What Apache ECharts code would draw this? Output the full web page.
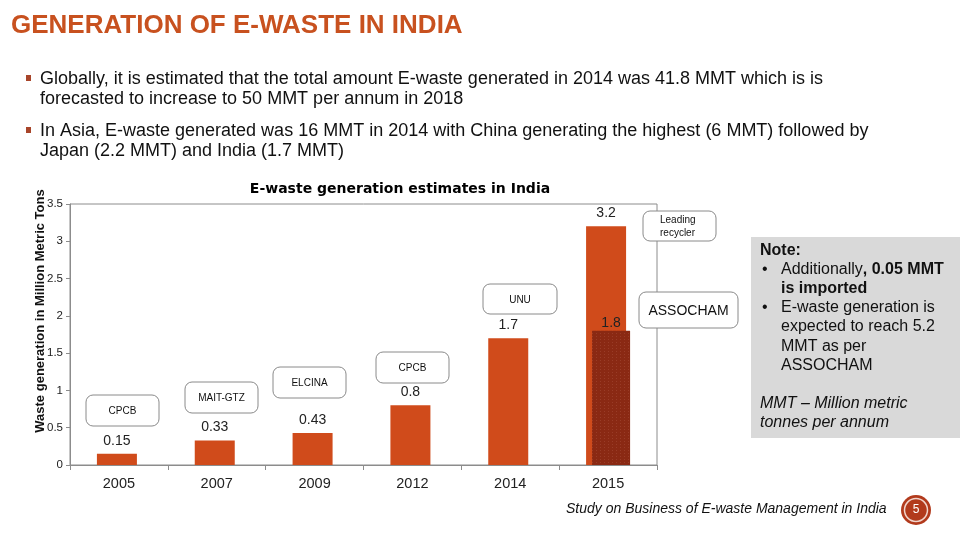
<!DOCTYPE html>
<html>
<head>
<meta charset="utf-8">
<script src="https://cdn.jsdelivr.net/npm/echarts@6/dist/echarts.min.js"></script>
<style>
html,body{margin:0;padding:0;background:#fff;}
#chart{width:960px;height:540px;}
</style>
</head>
<body>
<div id="chart"></div>
<script>
// ---- data ----
var years = ['2005', '2007', '2009', '2012', '2014', '2015'];
var estimates = [0.15, 0.33, 0.43, 0.8, 1.7, 3.2];
var assochamEstimate = [null, null, null, null, null, 1.8];
var sources = ['CPCB', 'MAIT-GTZ', 'ELCINA', 'CPCB', 'UNU', 'Leading\nrecycler'];
var assochamSource = 'ASSOCHAM';
var yTicks = [0, 0.5, 1, 1.5, 2, 2.5, 3, 3.5];

var BAR = '#D04B1B';
var TXT = '#222';
var FF = '"Liberation Sans", Arial, sans-serif';

var chart = echarts.init(document.getElementById('chart'), null, {renderer: 'canvas'});

function box(x, y, w, h, label, fs, align) {
  var els = [{
    type: 'rect', z: 10,
    shape: {x: x, y: y, width: w, height: h, r: 7},
    style: {fill: '#fff', stroke: '#8a8a8a', lineWidth: 1}
  }];
  var al = align || 'center';
  els.push({
    type: 'text', z: 11,
    style: {
      text: label, x: al === 'center' ? x + w / 2 : x + 17, y: y + h / 2 + 1,
      align: al, verticalAlign: 'middle',
      fontFamily: FF, fontSize: fs, fill: '#111', lineHeight: fs + 3
    }
  });
  return els;
}

var graphics = [];
// slide title
graphics.push({type: 'text', style: {text: 'GENERATION OF E-WASTE IN INDIA', x: 11, y: 26, verticalAlign: 'middle',
  fontFamily: FF, fontWeight: 'bold', fontSize: 26, fill: '#C8511F'}});
// bullets
var bulletLines = [
  [79, 'Globally, it is estimated that the total amount E-waste generated in 2014 was 41.8 MMT which is is', true],
  [99, 'forecasted to increase to 50 MMT per annum in 2018', false],
  [131, 'In Asia, E-waste generated was 16 MMT in 2014 with China generating the highest (6 MMT) followed by', true],
  [151, 'Japan (2.2 MMT) and India (1.7 MMT)', false]
];
bulletLines.forEach(function (b) {
  if (b[2]) graphics.push({type: 'rect', shape: {x: 26, y: b[0] - 4, width: 5, height: 6}, style: {fill: '#A8452A'}});
  graphics.push({type: 'text', style: {text: b[1], x: 40, y: b[0], verticalAlign: 'middle',
    fontFamily: FF, fontSize: 18, fill: '#111'}});
});
// y axis name
graphics.push({type: 'text', rotation: Math.PI / 2, x: 40, y: 311,
  style: {text: 'Waste generation in Million Metric Tons', x: 0, y: 0, align: 'center', verticalAlign: 'middle',
    fontFamily: FF, fontWeight: 'bold', fontSize: 13, fill: '#111'}});
// source boxes
graphics = graphics.concat(box(86, 395, 73, 31, sources[0], 10));
graphics = graphics.concat(box(185, 382, 73, 31, sources[1], 10));
graphics = graphics.concat(box(273, 367, 73, 31, sources[2], 10));
graphics = graphics.concat(box(376, 352, 73, 31, sources[3], 10));
graphics = graphics.concat(box(483, 284, 74, 30, sources[4], 10));
graphics = graphics.concat(box(643, 211, 73, 30, sources[5], 10, 'left'));
graphics = graphics.concat(box(639, 292, 99, 36, assochamSource, 14));
// note box
graphics.push({type: 'rect', shape: {x: 751, y: 237, width: 209, height: 201}, style: {fill: '#D9D9D9'}});
var noteFs = 16;
graphics.push({type: 'text', style: {text: 'Note:', x: 760, y: 251, verticalAlign: 'middle', fontFamily: FF, fontWeight: 'bold', fontSize: noteFs, fill: '#111'}});
graphics.push({type: 'text', style: {text: '•', x: 762, y: 270, verticalAlign: 'middle', fontFamily: FF, fontSize: noteFs, fill: '#111'}});
graphics.push({type: 'text', style: {text: '{n|Additionally}{b|, 0.05 MMT}', x: 781, y: 270, verticalAlign: 'middle',
  rich: {n: {fontFamily: FF, fontSize: noteFs, fill: '#111'}, b: {fontFamily: FF, fontSize: noteFs, fontWeight: 'bold', fill: '#111'}}}});
graphics.push({type: 'text', style: {text: 'is imported', x: 781, y: 289, verticalAlign: 'middle', fontFamily: FF, fontWeight: 'bold', fontSize: noteFs, fill: '#111'}});
graphics.push({type: 'text', style: {text: '•', x: 762, y: 308, verticalAlign: 'middle', fontFamily: FF, fontSize: noteFs, fill: '#111'}});
[[308, 'E-waste generation is'], [327, 'expected to reach 5.2'], [347, 'MMT as per'], [366, 'ASSOCHAM']].forEach(function (l) {
  graphics.push({type: 'text', style: {text: l[1], x: 781, y: l[0], verticalAlign: 'middle', fontFamily: FF, fontSize: noteFs, fill: '#111'}});
});
[[404, 'MMT – Million metric'], [423, 'tonnes per annum']].forEach(function (l) {
  graphics.push({type: 'text', style: {text: l[1], x: 760, y: l[0], verticalAlign: 'middle', fontFamily: FF, fontStyle: 'italic', fontSize: noteFs, fill: '#111'}});
});
// footer
graphics.push({type: 'text', style: {text: 'Study on Business of E-waste Management in India', x: 566, y: 509, verticalAlign: 'middle',
  fontFamily: FF, fontStyle: 'italic', fontSize: 14, fill: '#111'}});
graphics.push({type: 'circle', shape: {cx: 916, cy: 510, r: 15}, style: {fill: '#B23A1C'}});
graphics.push({type: 'circle', shape: {cx: 916, cy: 510, r: 11.5}, style: {fill: '#B23A1C', stroke: '#F1D5CC', lineWidth: 1.5}});
graphics.push({type: 'text', style: {text: '5', x: 916, y: 510, align: 'center', verticalAlign: 'middle', fontFamily: FF, fontSize: 12, fill: '#fff'}});

var option = {
  backgroundColor: '#fff',
  animation: false,
  title: {
    text: 'E-waste generation estimates in India',
    left: 395, top: 177, textAlign: 'center',
    textStyle: {fontFamily: '"DejaVu Sans", sans-serif', fontWeight: 'bold', fontSize: 14, color: '#000'}
  },
  grid: {left: 70, right: 303, top: 204, bottom: 75, show: true, borderColor: '#8c8c8c', borderWidth: 1, backgroundColor: 'transparent'},
  xAxis: {
    type: 'category', data: years, boundaryGap: true,
    axisLine: {lineStyle: {color: '#8c8c8c', width: 1}},
    axisTick: {show: true, length: 5, lineStyle: {color: '#8c8c8c'}},
    axisLabel: {color: TXT, fontFamily: FF, fontSize: 14.5, margin: 11}
  },
  yAxis: {
    type: 'value', min: yTicks[0], max: yTicks[yTicks.length - 1], interval: 0.5,
    axisLine: {show: true, lineStyle: {color: '#8c8c8c', width: 1}},
    axisTick: {show: true, length: 4, lineStyle: {color: '#8c8c8c'}},
    splitLine: {show: false},
    axisLabel: {color: TXT, fontFamily: FF, fontSize: 11.5, margin: 7}
  },
  series: [
    {
      type: 'bar', data: estimates, barWidth: 40, barGap: '-85%',
      itemStyle: {color: BAR},
      label: {show: true, position: 'top', distance: 6, color: TXT, fontFamily: FF, fontSize: 14}
    },
    {
      type: 'bar', data: assochamEstimate, barWidth: 38, z: 3,
      itemStyle: {
        color: '#8A2913',
        decal: {symbol: 'rect', symbolSize: 0.6, color: 'rgba(245,175,155,0.5)', dashArrayX: [1, 3], dashArrayY: [1, 2], rotation: 0}
      },
      label: {show: true, position: 'top', distance: 1, color: TXT, fontFamily: FF, fontSize: 14}
    }
  ],
  graphic: graphics
};
chart.setOption(option);
</script>
</body>
</html>
